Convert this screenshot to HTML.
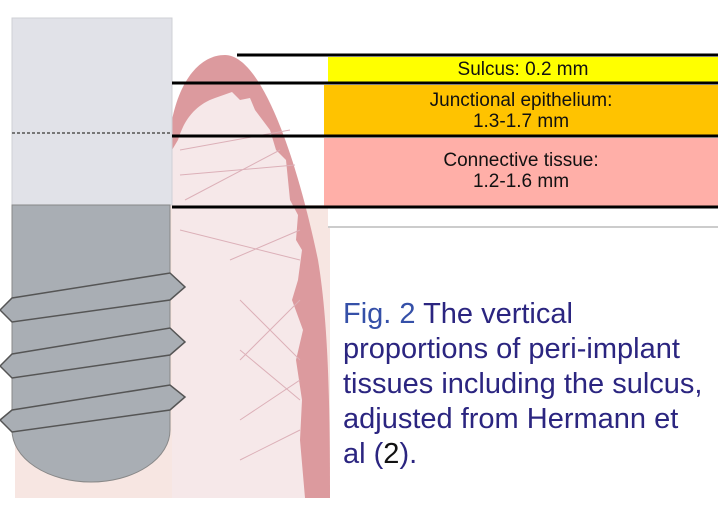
<!DOCTYPE html>
<html><head><meta charset="utf-8"><style>
body{margin:0;width:718px;height:528px;background:#fff;overflow:hidden;position:relative;font-family:"Liberation Sans",sans-serif}
.t{position:absolute;font-size:19px;color:#111;text-align:center;line-height:21px}
#cap{position:absolute;left:343px;top:297px;font-size:29px;line-height:35px;color:#2b2580;white-space:nowrap}
</style></head><body>
<svg width="718" height="528" style="position:absolute;left:0;top:0">
  <rect x="15" y="205" width="315" height="293" fill="#f7e6e2"/>
  <path d="M172,120 C180,80 200,55 225,55 C260,55 295,150 318,260 C328,320 330,400 330,498 L172,498 Z" fill="#dc9a9e"/>
  <path d="M178,140 C184,120 195,105 215,98 L232,92 L240,100 L250,98 L255,110 L270,130 L276,150 L286,160 L290,200 L298,215 L296,240 L302,250 L298,280 L292,300 L303,330 L296,360 L302,400 L300,440 L305,498 L172,498 L172,150 Z" fill="#f6e8e9"/>
  <g stroke="#dcb0b8" stroke-width="1" fill="none">
    <path d="M180,150 L290,130 M180,175 L295,165 M185,200 L280,150 M180,230 L300,260 M230,260 L300,230 M240,300 L300,360 M240,360 L300,300 M240,420 L300,380 M240,460 L300,430 M240,350 L300,400"/>
  </g>
  <rect x="12" y="18" width="160" height="187" fill="#e1e2e8" stroke="#cfd0d6"/>
  <line x1="12" y1="133" x2="170" y2="133" stroke="#777" stroke-width="2" stroke-dasharray="3,2"/>
  <path d="M12,205 L170,205 L170,430 A79,52 0 0 1 12,430 Z" fill="#a9aeb4" stroke="#888"/>
  <g fill="#a9aeb4" stroke="#555" stroke-width="1.5">
    <path d="M12,298 L170,273 L185,287 L170,300 L12,322 L0,310 Z"/>
    <path d="M12,354 L170,328 L185,342 L170,355 L12,378 L0,366 Z"/>
    <path d="M12,410 L170,385 L185,397 L170,410 L12,432 L0,420 Z"/>
  </g>
  <rect x="328" y="57" width="390" height="25" fill="#ffff00"/>
  <rect x="324" y="85" width="394" height="50" fill="#ffc300"/>
  <rect x="324" y="138" width="394" height="68" fill="#ffafa8"/>
  <rect x="328" y="208" width="390" height="19" fill="#fff"/>
  <line x1="328" y1="227" x2="718" y2="227" stroke="#ccc" stroke-width="2"/>
  <g stroke="#000" stroke-width="3">
    <line x1="237" y1="55" x2="718" y2="55"/>
    <line x1="172" y1="83" x2="718" y2="83"/>
    <line x1="172" y1="136" x2="718" y2="136"/>
    <line x1="172" y1="207" x2="718" y2="207"/>
  </g>
</svg>
<div class="t" style="left:328px;top:59px;width:390px">Sulcus: 0.2 mm</div>
<div class="t" style="left:324px;top:90px;width:394px">Junctional epithelium:<br>1.3-1.7 mm</div>
<div class="t" style="left:324px;top:150px;width:394px">Connective tissue:<br>1.2-1.6 mm</div>
<div id="cap"><span style="color:#3550a8">Fig. 2</span> The vertical<br>proportions of peri-implant<br>tissues including the sulcus,<br>adjusted from Hermann et<br>al (<span style="color:#111">2</span>).</div>
</body></html>
